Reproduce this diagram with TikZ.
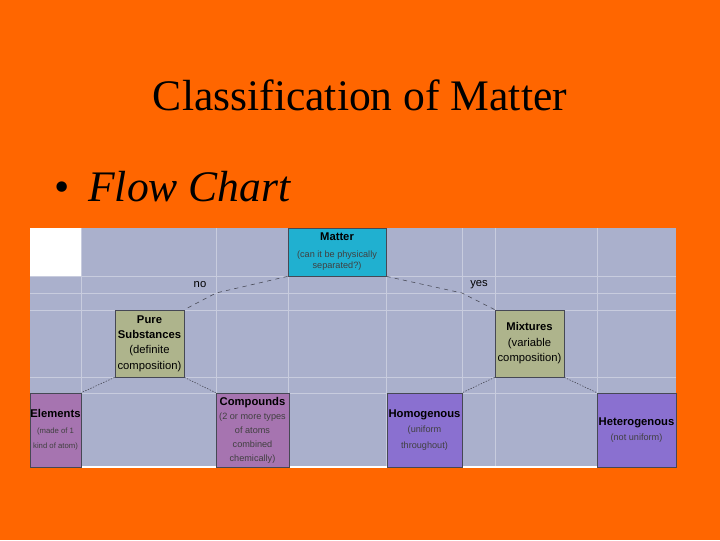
\documentclass[tikz,border=0pt]{standalone}
\usepackage{fontspec}
\setmainfont{Liberation Serif}
\setsansfont{Liberation Sans}
\definecolor{slideorange}{RGB}{255,102,0}
\definecolor{gridbg}{RGB}{170,176,204}
\definecolor{gridline}{RGB}{200,204,222}
\definecolor{mattercyan}{RGB}{32,176,208}
\definecolor{purekhaki}{RGB}{174,180,140}
\definecolor{elempurple}{RGB}{166,116,176}
\definecolor{mixviolet}{RGB}{138,112,208}
\definecolor{edgegray}{RGB}{70,72,84}
\newcommand{\smallnote}[1]{{\color{black!75}\fontsize{6.5}{9}\selectfont #1}}
\newcommand{\tinynote}[1]{{\color{black!75}\fontsize{5.5}{8}\selectfont #1}}
\usetikzlibrary{positioning}

\begin{document}
\begin{tikzpicture}[x=0.025cm,y=-0.025cm,
      cellbox/.style={draw=edgegray,line width=0.5pt,inner sep=0pt,
                  font=\sffamily\fontsize{8}{11}\selectfont,align=center},
      rootbox/.style={cellbox,fill=mattercyan},
      classbox/.style={cellbox,fill=purekhaki},
      purebox/.style={cellbox,fill=elempurple},
      mixbox/.style={cellbox,fill=mixviolet},
      link/.style={edgegray,line width=0.4pt,dashed},
      sublink/.style={edgegray,line width=0.4pt,dash pattern=on 1pt off 1pt}
    ]
      % slide background
      \fill[slideorange] (0,0) rectangle (720,540);
      \useasboundingbox (0,0) rectangle (720,540);

      \node[font=\fontsize{31}{36}\selectfont,anchor=base] (title) at (360,110) {Classification of Matter};
      \node[font=\fontsize{31}{36}\selectfont,anchor=base,inner sep=0pt] (bullet) at (62,201) {\textbullet};
      \node[font=\fontsize{31}{36}\selectfont\itshape,anchor=base west,inner sep=0pt] (flow) at (88,201) {Flow Chart};

      % sheet grid
      \fill[gridbg] (30,228) rectangle (676,467);
      \fill[white] (30,228) rectangle (81,276);
      \foreach \x in {81,216,288,386,462,495,597}
        \draw[gridline] (\x,228) -- (\x,467);
      \foreach \y in {276,293,310,377,393}
        \draw[gridline] (30,\y) -- (676,\y);
      \draw[white,line width=0.8pt] (30,467) -- (676,467);

      \node[rootbox,minimum width=2.45cm,minimum height=1.2cm] (matter) at (337,252)
        {\textbf{Matter}\\[1pt]\smallnote{(can it be physically}\\[-3pt]\smallnote{separated?)}};
      \node[classbox,minimum width=1.725cm,minimum height=1.675cm] (pure) at (149.5,343.5)
        {\textbf{Pure}\\\textbf{Substances}\\(definite\\composition)};
      \node[classbox,minimum width=1.725cm,minimum height=1.675cm] (mixt) at (529.5,343.5)
        {\textbf{Mixtures}\\(variable\\composition)};
      \node[purebox,minimum width=1.275cm,minimum height=1.85cm] (elem) at (55.5,430)
        {\textbf{Elements}\\\tinynote{(made of 1}\\\tinynote{kind of atom)}};
      \node[purebox,minimum width=1.825cm,minimum height=1.85cm] (comp) at (252.5,430)
        {\textbf{Compounds}\\[-1pt]\smallnote{(2 or more types}\\[-1pt]\smallnote{of atoms}\\[-1pt]\smallnote{combined}\\[-1pt]\smallnote{chemically)}};
      \node[mixbox,minimum width=1.875cm,minimum height=1.85cm] (homo) at (424.5,430)
        {\textbf{Homogenous}\\\smallnote{(uniform}\\\smallnote{throughout)}};
      \node[mixbox,minimum width=1.975cm,minimum height=1.85cm] (hetero) at (636.5,430)
        {\textbf{Heterogenous}\\\smallnote{(not uniform)}};

      \coordinate (nobend) at (216,293);
      \coordinate (yesbend) at (462,293);
      \node[font=\sffamily\fontsize{8}{10}\selectfont] (no) at (200,285) {no};
      \node[font=\sffamily\fontsize{8}{10}\selectfont] (yes) at (479,285) {yes};

      \draw[link] (matter.south west) -- (nobend) -- (pure.north east);
      \draw[link] (matter.south east) -- (yesbend) -- (mixt.north west);
      \draw[sublink] (pure.south west) -- (elem.north east);
      \draw[sublink] (pure.south east) -- (comp.north west);
      \draw[sublink] (mixt.south west) -- (homo.north east);
      \draw[sublink] (mixt.south east) -- (hetero.north west);
    \end{tikzpicture}
\end{document}
